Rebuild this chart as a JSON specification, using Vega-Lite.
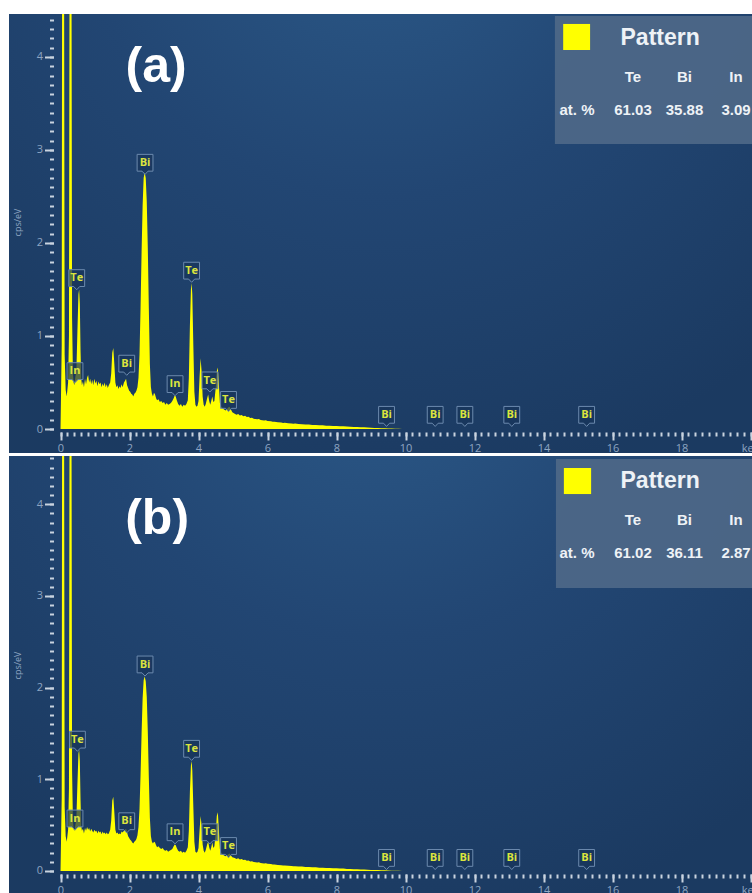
{
  "$schema": "https://vega.github.io/schema/vega-lite/v6.json",
  "background": "white",
  "padding": {"left": 9, "top": 14, "right": 0, "bottom": 0},
  "bounds": "flush",
  "spacing": 3,
  "config": {
    "view": {"stroke": null},
    "axis": {"domain": false, "grid": false}
  },
  "datasets": {
    "specA": [
      {"E":0,"v":0},{"E":0.02,"v":0.5},{"E":0.035,"v":0.9},{"E":0.045,"v":4.6},{"E":0.075,"v":7.0},{"E":0.105,"v":4.6},{"E":0.12,"v":0.8},{"E":0.15,"v":0.42},{"E":0.18,"v":0.35},{"E":0.22,"v":0.5},{"E":0.245,"v":1.0},{"E":0.26,"v":4.6},{"E":0.29,"v":7.0},{"E":0.32,"v":4.6},{"E":0.335,"v":1.2},{"E":0.36,"v":0.6},{"E":0.38,"v":0.5},{"E":0.4,"v":0.47},{"E":0.43,"v":0.56},{"E":0.46,"v":0.63},{"E":0.49,"v":1.05},{"E":0.52,"v":1.45},{"E":0.54,"v":1.5},{"E":0.56,"v":1.35},{"E":0.58,"v":0.85},{"E":0.6,"v":0.55},{"E":0.62,"v":0.47},{"E":0.65,"v":0.51},{"E":0.68,"v":0.45},{"E":0.71,"v":0.54},{"E":0.74,"v":0.48},{"E":0.77,"v":0.55},{"E":0.8,"v":0.58},{"E":0.83,"v":0.5},{"E":0.86,"v":0.54},{"E":0.89,"v":0.48},{"E":0.92,"v":0.53},{"E":0.95,"v":0.47},{"E":0.98,"v":0.54},{"E":1.01,"v":0.49},{"E":1.04,"v":0.52},{"E":1.07,"v":0.46},{"E":1.1,"v":0.51},{"E":1.13,"v":0.48},{"E":1.16,"v":0.5},{"E":1.19,"v":0.45},{"E":1.22,"v":0.49},{"E":1.25,"v":0.46},{"E":1.28,"v":0.5},{"E":1.31,"v":0.45},{"E":1.34,"v":0.48},{"E":1.37,"v":0.44},{"E":1.4,"v":0.47},{"E":1.44,"v":0.5},{"E":1.47,"v":0.6},{"E":1.5,"v":0.82},{"E":1.53,"v":0.87},{"E":1.56,"v":0.7},{"E":1.59,"v":0.5},{"E":1.62,"v":0.45},{"E":1.65,"v":0.47},{"E":1.68,"v":0.43},{"E":1.71,"v":0.46},{"E":1.74,"v":0.44},{"E":1.77,"v":0.48},{"E":1.8,"v":0.45},{"E":1.84,"v":0.5},{"E":1.87,"v":0.52},{"E":1.9,"v":0.54},{"E":1.93,"v":0.47},{"E":1.96,"v":0.44},{"E":1.99,"v":0.41},{"E":2.02,"v":0.4},{"E":2.05,"v":0.38},{"E":2.08,"v":0.37},{"E":2.11,"v":0.35},{"E":2.14,"v":0.38},{"E":2.17,"v":0.39},{"E":2.2,"v":0.41},{"E":2.23,"v":0.45},{"E":2.26,"v":0.55},{"E":2.29,"v":0.8},{"E":2.32,"v":1.3},{"E":2.35,"v":1.9},{"E":2.38,"v":2.4},{"E":2.41,"v":2.7},{"E":2.44,"v":2.76},{"E":2.47,"v":2.7},{"E":2.5,"v":2.45},{"E":2.53,"v":1.95},{"E":2.56,"v":1.3},{"E":2.59,"v":0.7},{"E":2.62,"v":0.45},{"E":2.65,"v":0.38},{"E":2.68,"v":0.35},{"E":2.71,"v":0.39},{"E":2.74,"v":0.37},{"E":2.77,"v":0.33},{"E":2.8,"v":0.31},{"E":2.84,"v":0.32},{"E":2.88,"v":0.29},{"E":2.92,"v":0.3},{"E":2.96,"v":0.28},{"E":3.0,"v":0.29},{"E":3.04,"v":0.26},{"E":3.08,"v":0.28},{"E":3.12,"v":0.26},{"E":3.16,"v":0.27},{"E":3.2,"v":0.28},{"E":3.24,"v":0.3},{"E":3.28,"v":0.33},{"E":3.31,"v":0.36},{"E":3.34,"v":0.35},{"E":3.37,"v":0.31},{"E":3.41,"v":0.27},{"E":3.45,"v":0.25},{"E":3.49,"v":0.27},{"E":3.53,"v":0.24},{"E":3.57,"v":0.26},{"E":3.61,"v":0.25},{"E":3.65,"v":0.27},{"E":3.69,"v":0.31},{"E":3.72,"v":0.55},{"E":3.75,"v":1.1},{"E":3.78,"v":1.5},{"E":3.8,"v":1.57},{"E":3.82,"v":1.45},{"E":3.85,"v":0.9},{"E":3.88,"v":0.4},{"E":3.91,"v":0.26},{"E":3.94,"v":0.24},{"E":3.97,"v":0.25},{"E":4.0,"v":0.3},{"E":4.03,"v":0.55},{"E":4.06,"v":0.76},{"E":4.09,"v":0.62},{"E":4.12,"v":0.35},{"E":4.15,"v":0.26},{"E":4.18,"v":0.24},{"E":4.21,"v":0.27},{"E":4.25,"v":0.33},{"E":4.28,"v":0.37},{"E":4.31,"v":0.3},{"E":4.34,"v":0.26},{"E":4.37,"v":0.3},{"E":4.4,"v":0.35},{"E":4.43,"v":0.29},{"E":4.46,"v":0.3},{"E":4.5,"v":0.45},{"E":4.53,"v":0.62},{"E":4.56,"v":0.66},{"E":4.59,"v":0.48},{"E":4.62,"v":0.28},{"E":4.66,"v":0.24},{"E":4.7,"v":0.22},{"E":4.74,"v":0.21},{"E":4.78,"v":0.2},{"E":4.82,"v":0.21},{"E":4.86,"v":0.23},{"E":4.9,"v":0.24},{"E":4.94,"v":0.21},{"E":4.98,"v":0.18},
      {"E":5.05,"v":0.165},{"E":5.1,"v":0.152},{"E":5.15,"v":0.16},{"E":5.2,"v":0.146},{"E":5.25,"v":0.15},{"E":5.3,"v":0.137},{"E":5.35,"v":0.142},{"E":5.4,"v":0.128},{"E":5.45,"v":0.131},{"E":5.5,"v":0.118},{"E":5.55,"v":0.122},{"E":5.6,"v":0.11},{"E":5.7,"v":0.104},{"E":5.75,"v":0.108},{"E":5.8,"v":0.097},{"E":5.9,"v":0.092},{"E":5.95,"v":0.094},{"E":6.0,"v":0.085},{"E":6.1,"v":0.083},{"E":6.15,"v":0.077},{"E":6.2,"v":0.079},{"E":6.3,"v":0.072},{"E":6.4,"v":0.07},{"E":6.45,"v":0.065},{"E":6.5,"v":0.067},{"E":6.6,"v":0.061},{"E":6.7,"v":0.06},{"E":6.75,"v":0.056},{"E":6.8,"v":0.058},{"E":6.9,"v":0.053},{"E":7.0,"v":0.052},{"E":7.1,"v":0.048},{"E":7.2,"v":0.048},{"E":7.3,"v":0.044},{"E":7.4,"v":0.044},{"E":7.5,"v":0.04},{"E":7.6,"v":0.04},{"E":7.7,"v":0.036},{"E":7.8,"v":0.036},{"E":7.9,"v":0.032},{"E":8.0,"v":0.033},{"E":8.1,"v":0.029},{"E":8.2,"v":0.03},{"E":8.3,"v":0.026},{"E":8.4,"v":0.025},{"E":8.5,"v":0.022},{"E":8.6,"v":0.022},{"E":8.7,"v":0.018},{"E":8.8,"v":0.018},{"E":8.9,"v":0.015},{"E":9.0,"v":0.014},{"E":9.1,"v":0.012},{"E":9.2,"v":0.011},{"E":9.3,"v":0.009},{"E":9.4,"v":0.008},{"E":9.5,"v":0.006},{"E":9.6,"v":0.005},{"E":9.7,"v":0.004},{"E":9.8,"v":0.003},{"E":9.9,"v":0.001},{"E":9.95,"v":0}
    ],
    "specB": [
      {"E":0,"v":0},{"E":0.02,"v":0.45},{"E":0.035,"v":0.8},{"E":0.045,"v":4.6},{"E":0.075,"v":7.0},{"E":0.105,"v":4.6},{"E":0.12,"v":0.7},{"E":0.15,"v":0.38},{"E":0.18,"v":0.32},{"E":0.22,"v":0.45},{"E":0.245,"v":0.9},{"E":0.26,"v":4.6},{"E":0.29,"v":7.0},{"E":0.32,"v":4.6},{"E":0.335,"v":1.1},{"E":0.36,"v":0.55},{"E":0.38,"v":0.46},{"E":0.4,"v":0.44},{"E":0.43,"v":0.5},{"E":0.46,"v":0.58},{"E":0.49,"v":0.95},{"E":0.52,"v":1.28},{"E":0.54,"v":1.32},{"E":0.56,"v":1.2},{"E":0.58,"v":0.78},{"E":0.6,"v":0.5},{"E":0.62,"v":0.44},{"E":0.65,"v":0.46},{"E":0.68,"v":0.41},{"E":0.71,"v":0.47},{"E":0.74,"v":0.44},{"E":0.77,"v":0.48},{"E":0.8,"v":0.45},{"E":0.83,"v":0.47},{"E":0.86,"v":0.43},{"E":0.89,"v":0.46},{"E":0.92,"v":0.44},{"E":0.95,"v":0.42},{"E":0.98,"v":0.45},{"E":1.01,"v":0.43},{"E":1.04,"v":0.44},{"E":1.07,"v":0.41},{"E":1.1,"v":0.44},{"E":1.13,"v":0.42},{"E":1.16,"v":0.43},{"E":1.19,"v":0.4},{"E":1.22,"v":0.43},{"E":1.25,"v":0.41},{"E":1.28,"v":0.42},{"E":1.31,"v":0.4},{"E":1.34,"v":0.42},{"E":1.37,"v":0.4},{"E":1.4,"v":0.41},{"E":1.44,"v":0.45},{"E":1.47,"v":0.55},{"E":1.5,"v":0.77},{"E":1.53,"v":0.81},{"E":1.56,"v":0.64},{"E":1.59,"v":0.45},{"E":1.62,"v":0.41},{"E":1.65,"v":0.42},{"E":1.68,"v":0.4},{"E":1.71,"v":0.41},{"E":1.74,"v":0.4},{"E":1.77,"v":0.43},{"E":1.8,"v":0.42},{"E":1.84,"v":0.44},{"E":1.87,"v":0.45},{"E":1.9,"v":0.46},{"E":1.93,"v":0.42},{"E":1.96,"v":0.38},{"E":1.99,"v":0.36},{"E":2.02,"v":0.34},{"E":2.05,"v":0.33},{"E":2.08,"v":0.31},{"E":2.11,"v":0.3},{"E":2.14,"v":0.32},{"E":2.17,"v":0.33},{"E":2.2,"v":0.35},{"E":2.23,"v":0.39},{"E":2.26,"v":0.48},{"E":2.29,"v":0.68},{"E":2.32,"v":1.05},{"E":2.35,"v":1.5},{"E":2.38,"v":1.88},{"E":2.41,"v":2.08},{"E":2.44,"v":2.12},{"E":2.47,"v":2.07},{"E":2.5,"v":1.9},{"E":2.53,"v":1.52},{"E":2.56,"v":1.02},{"E":2.59,"v":0.58},{"E":2.62,"v":0.38},{"E":2.65,"v":0.32},{"E":2.68,"v":0.3},{"E":2.71,"v":0.32},{"E":2.74,"v":0.31},{"E":2.77,"v":0.28},{"E":2.8,"v":0.26},{"E":2.84,"v":0.27},{"E":2.88,"v":0.25},{"E":2.92,"v":0.24},{"E":2.96,"v":0.25},{"E":3.0,"v":0.23},{"E":3.04,"v":0.22},{"E":3.08,"v":0.23},{"E":3.12,"v":0.21},{"E":3.16,"v":0.22},{"E":3.2,"v":0.23},{"E":3.24,"v":0.24},{"E":3.28,"v":0.27},{"E":3.31,"v":0.29},{"E":3.34,"v":0.28},{"E":3.37,"v":0.25},{"E":3.41,"v":0.22},{"E":3.45,"v":0.21},{"E":3.49,"v":0.22},{"E":3.53,"v":0.2},{"E":3.57,"v":0.21},{"E":3.61,"v":0.2},{"E":3.65,"v":0.22},{"E":3.69,"v":0.26},{"E":3.72,"v":0.44},{"E":3.75,"v":0.86},{"E":3.78,"v":1.15},{"E":3.8,"v":1.2},{"E":3.82,"v":1.1},{"E":3.85,"v":0.7},{"E":3.88,"v":0.32},{"E":3.91,"v":0.21},{"E":3.94,"v":0.2},{"E":3.97,"v":0.21},{"E":4.0,"v":0.25},{"E":4.03,"v":0.44},{"E":4.06,"v":0.6},{"E":4.09,"v":0.5},{"E":4.12,"v":0.29},{"E":4.15,"v":0.22},{"E":4.18,"v":0.2},{"E":4.21,"v":0.23},{"E":4.25,"v":0.29},{"E":4.28,"v":0.32},{"E":4.31,"v":0.26},{"E":4.34,"v":0.22},{"E":4.37,"v":0.26},{"E":4.4,"v":0.31},{"E":4.43,"v":0.25},{"E":4.46,"v":0.27},{"E":4.5,"v":0.42},{"E":4.53,"v":0.6},{"E":4.56,"v":0.64},{"E":4.59,"v":0.45},{"E":4.62,"v":0.24},{"E":4.66,"v":0.2},{"E":4.7,"v":0.18},{"E":4.74,"v":0.17},{"E":4.78,"v":0.16},{"E":4.82,"v":0.17},{"E":4.86,"v":0.18},{"E":4.9,"v":0.19},{"E":4.94,"v":0.17},{"E":4.98,"v":0.15},
      {"E":5.05,"v":0.142},{"E":5.1,"v":0.132},{"E":5.15,"v":0.138},{"E":5.2,"v":0.126},{"E":5.25,"v":0.13},{"E":5.3,"v":0.119},{"E":5.35,"v":0.123},{"E":5.4,"v":0.112},{"E":5.45,"v":0.115},{"E":5.5,"v":0.104},{"E":5.55,"v":0.107},{"E":5.6,"v":0.098},{"E":5.7,"v":0.093},{"E":5.75,"v":0.096},{"E":5.8,"v":0.087},{"E":5.9,"v":0.083},{"E":5.95,"v":0.085},{"E":6.0,"v":0.078},{"E":6.1,"v":0.076},{"E":6.15,"v":0.07},{"E":6.2,"v":0.072},{"E":6.3,"v":0.066},{"E":6.4,"v":0.064},{"E":6.45,"v":0.059},{"E":6.5,"v":0.061},{"E":6.6,"v":0.056},{"E":6.7,"v":0.055},{"E":6.75,"v":0.051},{"E":6.8,"v":0.053},{"E":6.9,"v":0.049},{"E":7.0,"v":0.048},{"E":7.1,"v":0.044},{"E":7.2,"v":0.044},{"E":7.3,"v":0.04},{"E":7.4,"v":0.04},{"E":7.5,"v":0.036},{"E":7.6,"v":0.036},{"E":7.7,"v":0.033},{"E":7.8,"v":0.032},{"E":7.9,"v":0.029},{"E":8.0,"v":0.029},{"E":8.1,"v":0.026},{"E":8.2,"v":0.026},{"E":8.3,"v":0.023},{"E":8.4,"v":0.022},{"E":8.5,"v":0.02},{"E":8.6,"v":0.019},{"E":8.7,"v":0.016},{"E":8.8,"v":0.016},{"E":8.9,"v":0.013},{"E":9.0,"v":0.012},{"E":9.1,"v":0.011},{"E":9.2,"v":0.01},{"E":9.3,"v":0.008},{"E":9.4,"v":0.007},{"E":9.5,"v":0.005},{"E":9.6,"v":0.004},{"E":9.7,"v":0.003},{"E":9.8,"v":0.002},{"E":9.9,"v":0.001},{"E":9.95,"v":0}
    ],
    "labA": [
      {"el":"Te","E":0.47,"v":1.62},{"el":"In","E":0.42,"v":0.62},{"el":"Bi","E":1.92,"v":0.70},{"el":"Bi","E":2.45,"v":2.86},{"el":"Te","E":3.80,"v":1.70},{"el":"In","E":3.32,"v":0.48},{"el":"Te","E":4.33,"v":0.52},{"el":"Te","E":4.87,"v":0.31},{"el":"Bi","E":9.45,"v":0.15},{"el":"Bi","E":10.86,"v":0.15},{"el":"Bi","E":11.72,"v":0.15},{"el":"Bi","E":13.08,"v":0.15},{"el":"Bi","E":15.25,"v":0.15}
    ],
    "labB": [
      {"el":"Te","E":0.49,"v":1.43},{"el":"In","E":0.42,"v":0.57},{"el":"Bi","E":1.92,"v":0.54},{"el":"Bi","E":2.45,"v":2.25},{"el":"Te","E":3.80,"v":1.33},{"el":"In","E":3.32,"v":0.42},{"el":"Te","E":4.33,"v":0.42},{"el":"Te","E":4.87,"v":0.27},{"el":"Bi","E":9.45,"v":0.14},{"el":"Bi","E":10.86,"v":0.14},{"el":"Bi","E":11.72,"v":0.14},{"el":"Bi","E":13.08,"v":0.14},{"el":"Bi","E":15.25,"v":0.14}
    ],
    "tabA": [{"el":"Te","pct":61.03},{"el":"Bi","pct":35.88},{"el":"In","pct":3.09}],
    "tabB": [{"el":"Te","pct":61.02},{"el":"Bi","pct":36.11},{"el":"In","pct":2.87}]
  },
  "vconcat": [
    {
      "width": 743,
      "height": 439,
      "view": {"stroke": null, "fill": {"gradient": "radial", "x1": 0.5, "y1": 0.05, "r1": 0, "x2": 0.5, "y2": 0.05, "r2": 0.8, "stops": [{"offset": 0, "color": "#2c5a89"}, {"offset": 0.5, "color": "#224673"}, {"offset": 1, "color": "#1b3a61"}]}},
      "layer": [
        {
          "layer": [
            {
              "data": {"name": "specA"},
              "mark": {"type": "area", "color": "#ffff00", "clip": true, "interpolate": "linear"},
              "encoding": {
                "x": {"field": "E", "type": "quantitative", "scale": {"domain": [-1.493, 20.043], "nice": false, "zero": false},
                  "axis": {"orient": "bottom", "offset": -21, "values": [0,1,2,3,4,5,6,7,8,9,10,11,12,13,14,15,16,17,18,19,20], "tickSize": 8, "tickWidth": 2, "tickColor": "#c9d3df", "labelExpr": "datum.value == 20 ? 'keV' : (datum.value % 2 == 0 ? datum.label : '')", "labelColor": "#8ea5c2", "labelFont": "Open Sans", "labelFontSize": 11, "labelPadding": 2, "labelFlush": false, "labelOverlap": false, "title": null}},
                "y": {"field": "v", "type": "quantitative", "scale": {"domain": [-0.258, 4.462], "nice": false, "zero": false},
                  "axis": {"orient": "left", "offset": -44.5, "values": [0,1,2,3,4], "format": "d", "tickSize": 9, "tickWidth": 2, "tickColor": "#c9d3df", "labelColor": "#8ea5c2", "labelFont": "Open Sans", "labelFontSize": 11, "labelPadding": 2, "labelOverlap": false, "title": "cps/eV", "titleFont": "Open Sans", "titleFontSize": 9, "titleFontWeight": "normal", "titleColor": "#8ea5c2", "titleX": -36, "titleY": 208, "titleAlign": "center", "titleBaseline": "middle", "titleAngle": 270}},
                "y2": {"datum": 0}
              }
            },
            {
              "data": {"name": "labA"},
              "mark": {"type": "point", "shape": "M-0.66,-0.72L0.66,-0.72L0.66,0.68L0.25,0.68L0,0.95L-0.25,0.68L-0.66,0.68Z", "size": 576, "filled": true, "fill": "#17345a", "fillOpacity": 0.72, "stroke": "#6c8aae", "strokeWidth": 1, "strokeOpacity": 1, "opacity": 1},
              "encoding": {"x": {"field": "E", "type": "quantitative"}, "y": {"field": "v", "type": "quantitative"}}
            },
            {
              "data": {"name": "labA"},
              "mark": {"type": "text", "font": "Open Sans", "fontSize": 11, "fontWeight": "bold", "color": "#dbe43e", "align": "center", "baseline": "middle"},
              "encoding": {"x": {"field": "E", "type": "quantitative"}, "y": {"field": "v", "type": "quantitative"}, "text": {"field": "el"}}
            },
            {
              "data": {"values": [{}]},
              "mark": {"type": "rect", "color": "#4d6787", "opacity": 0.95},
              "encoding": {"x": {"datum": 14.33}, "x2": {"datum": 20.043}, "y": {"datum": 4.44}, "y2": {"datum": 3.065}}
            },
            {
              "data": {"values": [{}]},
              "mark": {"type": "rect", "color": "#ffff00"},
              "encoding": {"x": {"datum": 14.57}, "x2": {"datum": 15.35}, "y": {"datum": 4.355}, "y2": {"datum": 4.075}}
            },
            {
              "data": {"values": [{}]},
              "mark": {"type": "text", "text": "Pattern", "font": "Liberation Sans", "fontSize": 23, "fontWeight": "bold", "color": "#eef2f6", "align": "center", "baseline": "middle"},
              "encoding": {"x": {"datum": 17.38}, "y": {"datum": 4.204}}
            },
            {
              "data": {"values": [{}]},
              "mark": {"type": "text", "text": "at. %", "font": "Liberation Sans", "fontSize": 15, "fontWeight": "bold", "color": "#eef2f6", "align": "center", "baseline": "middle"},
              "encoding": {"x": {"datum": 14.97}, "y": {"datum": 3.43}}
            },
            {
              "data": {"values": [{}]},
              "mark": {"type": "text", "text": "(a)", "font": "Liberation Sans", "fontSize": 50, "fontWeight": "bold", "color": "#ffffff", "align": "center", "baseline": "middle"},
              "encoding": {"x": {"datum": 2.77}, "y": {"datum": 3.89}}
            }
          ]
        },
        {
          "data": {"name": "labA"},
          "mark": {"type": "point", "opacity": 0},
          "encoding": {
            "x": {"field": "E", "type": "quantitative", "scale": {"domain": [-1.493, 20.043], "nice": false, "zero": false},
              "axis": {"orient": "bottom", "offset": -21, "values": [0,0.2,0.4,0.6,0.8,1,1.2,1.4,1.6,1.8,2,2.2,2.4,2.6,2.8,3,3.2,3.4,3.6,3.8,4,4.2,4.4,4.6,4.8,5,5.2,5.4,5.6,5.8,6,6.2,6.4,6.6,6.8,7,7.2,7.4,7.6,7.8,8,8.2,8.4,8.6,8.8,9,9.2,9.4,9.6,9.8,10,10.2,10.4,10.6,10.8,11,11.2,11.4,11.6,11.8,12,12.2,12.4,12.6,12.8,13,13.2,13.4,13.6,13.8,14,14.2,14.4,14.6,14.8,15,15.2,15.4,15.6,15.8,16,16.2,16.4,16.6,16.8,17,17.2,17.4,17.6,17.8,18,18.2,18.4,18.6,18.8,19,19.2,19.4,19.6,19.8,20], "tickSize": 4, "tickWidth": 2, "tickColor": "#c9d3df", "labels": false, "title": null}},
            "y": {"field": "v", "type": "quantitative", "scale": {"domain": [-0.258, 4.462], "nice": false, "zero": false},
              "axis": {"orient": "left", "offset": -44.5, "values": [0,0.1,0.2,0.3,0.4,0.5,0.6,0.7,0.8,0.9,1,1.1,1.2,1.3,1.4,1.5,1.6,1.7,1.8,1.9,2,2.1,2.2,2.3,2.4,2.5,2.6,2.7,2.8,2.9,3,3.1,3.2,3.3,3.4,3.5,3.6,3.7,3.8,3.9,4,4.1,4.2,4.3,4.4], "tickSize": 4, "tickWidth": 2, "tickColor": "#c9d3df", "labels": false, "title": null}}
          }
        },
        {
          "data": {"name": "tabA"},
          "layer": [
            {
              "mark": {"type": "text", "font": "Liberation Sans", "fontSize": 15, "fontWeight": "bold", "color": "#eef2f6", "align": "center", "baseline": "middle"},
              "encoding": {
                "x": {"field": "el", "type": "nominal", "sort": null, "scale": {"type": "point", "domain": ["Te", "Bi", "In"], "range": [624, 727], "padding": 0}, "axis": null},
                "y": {"datum": 3.785, "scale": {"domain": [-0.258, 4.462], "nice": false, "zero": false}, "axis": null},
                "text": {"field": "el"}
              }
            },
            {
              "mark": {"type": "text", "font": "Liberation Sans", "fontSize": 15, "fontWeight": "bold", "color": "#eef2f6", "align": "center", "baseline": "middle"},
              "encoding": {
                "x": {"field": "el", "type": "nominal", "sort": null, "scale": {"type": "point", "domain": ["Te", "Bi", "In"], "range": [624, 727], "padding": 0}, "axis": null},
                "y": {"datum": 3.43, "scale": {"domain": [-0.258, 4.462], "nice": false, "zero": false}, "axis": null},
                "text": {"field": "pct", "type": "quantitative", "format": ".2f"}
              }
            }
          ]
        }
      ],
      "resolve": {"scale": {"x": "independent", "y": "independent"}, "axis": {"x": "independent", "y": "independent"}}
    },
    {
      "width": 743,
      "height": 437,
      "view": {"stroke": null, "fill": {"gradient": "radial", "x1": 0.5, "y1": 0.05, "r1": 0, "x2": 0.5, "y2": 0.05, "r2": 0.8, "stops": [{"offset": 0, "color": "#2c5a89"}, {"offset": 0.5, "color": "#224673"}, {"offset": 1, "color": "#1b3a61"}]}},
      "layer": [
        {
          "layer": [
            {
              "data": {"name": "specB"},
              "mark": {"type": "area", "color": "#ffff00", "clip": true, "interpolate": "linear"},
              "encoding": {
                "x": {"field": "E", "type": "quantitative", "scale": {"domain": [-1.493, 20.043], "nice": false, "zero": false},
                  "axis": {"orient": "bottom", "offset": -19, "values": [0,1,2,3,4,5,6,7,8,9,10,11,12,13,14,15,16,17,18,19,20], "tickSize": 8, "tickWidth": 2, "tickColor": "#c9d3df", "labelExpr": "datum.value == 20 ? 'keV' : (datum.value % 2 == 0 ? datum.label : '')", "labelColor": "#8ea5c2", "labelFont": "Open Sans", "labelFontSize": 11, "labelPadding": 2, "labelFlush": false, "labelOverlap": false, "title": null}},
                "y": {"field": "v", "type": "quantitative", "scale": {"domain": [-0.24, 4.526], "nice": false, "zero": false},
                  "axis": {"orient": "left", "offset": -44.5, "values": [0,1,2,3,4], "format": "d", "tickSize": 9, "tickWidth": 2, "tickColor": "#c9d3df", "labelColor": "#8ea5c2", "labelFont": "Open Sans", "labelFontSize": 11, "labelPadding": 2, "labelOverlap": false, "title": "cps/eV", "titleFont": "Open Sans", "titleFontSize": 9, "titleFontWeight": "normal", "titleColor": "#8ea5c2", "titleX": -36, "titleY": 209, "titleAlign": "center", "titleBaseline": "middle", "titleAngle": 270}},
                "y2": {"datum": 0}
              }
            },
            {
              "data": {"name": "labB"},
              "mark": {"type": "point", "shape": "M-0.66,-0.72L0.66,-0.72L0.66,0.68L0.25,0.68L0,0.95L-0.25,0.68L-0.66,0.68Z", "size": 576, "filled": true, "fill": "#17345a", "fillOpacity": 0.72, "stroke": "#6c8aae", "strokeWidth": 1, "strokeOpacity": 1, "opacity": 1},
              "encoding": {"x": {"field": "E", "type": "quantitative"}, "y": {"field": "v", "type": "quantitative"}}
            },
            {
              "data": {"name": "labB"},
              "mark": {"type": "text", "font": "Open Sans", "fontSize": 11, "fontWeight": "bold", "color": "#dbe43e", "align": "center", "baseline": "middle"},
              "encoding": {"x": {"field": "E", "type": "quantitative"}, "y": {"field": "v", "type": "quantitative"}, "text": {"field": "el"}}
            },
            {
              "data": {"values": [{}]},
              "mark": {"type": "rect", "color": "#4d6787", "opacity": 0.95},
              "encoding": {"x": {"datum": 14.36}, "x2": {"datum": 20.043}, "y": {"datum": 4.493}, "y2": {"datum": 3.086}}
            },
            {
              "data": {"values": [{}]},
              "mark": {"type": "rect", "color": "#ffff00"},
              "encoding": {"x": {"datum": 14.59}, "x2": {"datum": 15.38}, "y": {"datum": 4.395}, "y2": {"datum": 4.111}}
            },
            {
              "data": {"values": [{}]},
              "mark": {"type": "text", "text": "Pattern", "font": "Liberation Sans", "fontSize": 23, "fontWeight": "bold", "color": "#eef2f6", "align": "center", "baseline": "middle"},
              "encoding": {"x": {"datum": 17.38}, "y": {"datum": 4.253}}
            },
            {
              "data": {"values": [{}]},
              "mark": {"type": "text", "text": "at. %", "font": "Liberation Sans", "fontSize": 15, "fontWeight": "bold", "color": "#eef2f6", "align": "center", "baseline": "middle"},
              "encoding": {"x": {"datum": 14.97}, "y": {"datum": 3.468}}
            },
            {
              "data": {"values": [{}]},
              "mark": {"type": "text", "text": "(b)", "font": "Liberation Sans", "fontSize": 50, "fontWeight": "bold", "color": "#ffffff", "align": "center", "baseline": "middle"},
              "encoding": {"x": {"datum": 2.8}, "y": {"datum": 3.84}}
            }
          ]
        },
        {
          "data": {"name": "labB"},
          "mark": {"type": "point", "opacity": 0},
          "encoding": {
            "x": {"field": "E", "type": "quantitative", "scale": {"domain": [-1.493, 20.043], "nice": false, "zero": false},
              "axis": {"orient": "bottom", "offset": -19, "values": [0,0.2,0.4,0.6,0.8,1,1.2,1.4,1.6,1.8,2,2.2,2.4,2.6,2.8,3,3.2,3.4,3.6,3.8,4,4.2,4.4,4.6,4.8,5,5.2,5.4,5.6,5.8,6,6.2,6.4,6.6,6.8,7,7.2,7.4,7.6,7.8,8,8.2,8.4,8.6,8.8,9,9.2,9.4,9.6,9.8,10,10.2,10.4,10.6,10.8,11,11.2,11.4,11.6,11.8,12,12.2,12.4,12.6,12.8,13,13.2,13.4,13.6,13.8,14,14.2,14.4,14.6,14.8,15,15.2,15.4,15.6,15.8,16,16.2,16.4,16.6,16.8,17,17.2,17.4,17.6,17.8,18,18.2,18.4,18.6,18.8,19,19.2,19.4,19.6,19.8,20], "tickSize": 4, "tickWidth": 2, "tickColor": "#c9d3df", "labels": false, "title": null}},
            "y": {"field": "v", "type": "quantitative", "scale": {"domain": [-0.24, 4.526], "nice": false, "zero": false},
              "axis": {"orient": "left", "offset": -44.5, "values": [0,0.1,0.2,0.3,0.4,0.5,0.6,0.7,0.8,0.9,1,1.1,1.2,1.3,1.4,1.5,1.6,1.7,1.8,1.9,2,2.1,2.2,2.3,2.4,2.5,2.6,2.7,2.8,2.9,3,3.1,3.2,3.3,3.4,3.5,3.6,3.7,3.8,3.9,4,4.1,4.2,4.3,4.4,4.5], "tickSize": 4, "tickWidth": 2, "tickColor": "#c9d3df", "labels": false, "title": null}}
          }
        },
        {
          "data": {"name": "tabB"},
          "layer": [
            {
              "mark": {"type": "text", "font": "Liberation Sans", "fontSize": 15, "fontWeight": "bold", "color": "#eef2f6", "align": "center", "baseline": "middle"},
              "encoding": {
                "x": {"field": "el", "type": "nominal", "sort": null, "scale": {"type": "point", "domain": ["Te", "Bi", "In"], "range": [624, 727], "padding": 0}, "axis": null},
                "y": {"datum": 3.828, "scale": {"domain": [-0.24, 4.526], "nice": false, "zero": false}, "axis": null},
                "text": {"field": "el"}
              }
            },
            {
              "mark": {"type": "text", "font": "Liberation Sans", "fontSize": 15, "fontWeight": "bold", "color": "#eef2f6", "align": "center", "baseline": "middle"},
              "encoding": {
                "x": {"field": "el", "type": "nominal", "sort": null, "scale": {"type": "point", "domain": ["Te", "Bi", "In"], "range": [624, 727], "padding": 0}, "axis": null},
                "y": {"datum": 3.468, "scale": {"domain": [-0.24, 4.526], "nice": false, "zero": false}, "axis": null},
                "text": {"field": "pct", "type": "quantitative", "format": ".2f"}
              }
            }
          ]
        }
      ],
      "resolve": {"scale": {"x": "independent", "y": "independent"}, "axis": {"x": "independent", "y": "independent"}}
    }
  ]
}
